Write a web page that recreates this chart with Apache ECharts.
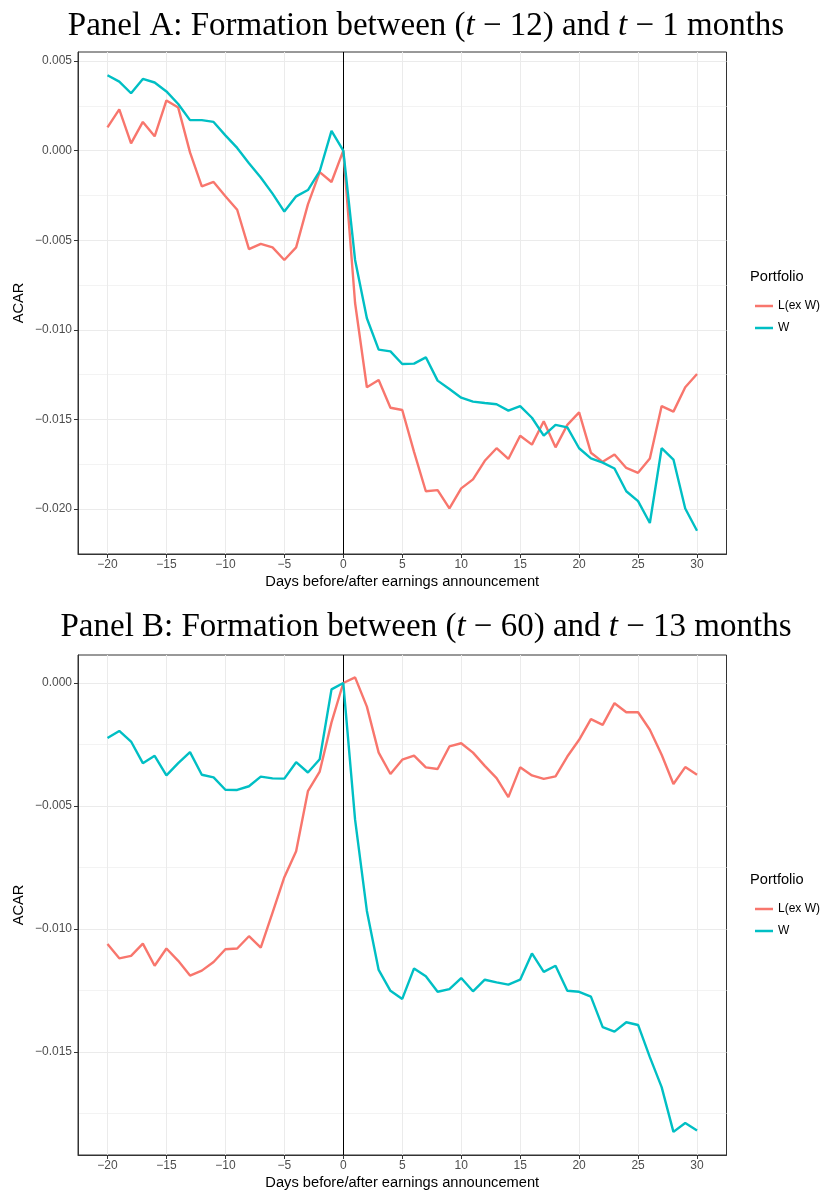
<!DOCTYPE html>
<html>
<head>
<meta charset="utf-8">
<script src="https://cdn.jsdelivr.net/npm/echarts@6/dist/echarts.min.js"></script>
<style>html,body{margin:0;padding:0;background:#fff;}#c{width:823px;height:1191px;}</style>
</head>
<body>
<div id="c"></div>
<script>
const days = [-20,-19,-18,-17,-16,-15,-14,-13,-12,-11,-10,-9,-8,-7,-6,-5,-4,-3,-2,-1,0,1,2,3,4,5,6,7,8,9,10,11,12,13,14,15,16,17,18,19,20,21,22,23,24,25,26,27,28,29,30];

const panelA_L = [0.0013,0.0023,0.0004,0.0016,0.0008,0.0028,0.0024,-0.0001,-0.0020,-0.00175,-0.00255,-0.0033,-0.0055,-0.0052,-0.0054,-0.0061,-0.0054,-0.0030,-0.0012,-0.00175,0,-0.0085,-0.0132,-0.0128,-0.01434,-0.01447,-0.0168,-0.0190,-0.01894,-0.01996,-0.01884,-0.01834,-0.0173,-0.0166,-0.0172,-0.0159,-0.0164,-0.0151,-0.01655,-0.0153,-0.0146,-0.01685,-0.01736,-0.01695,-0.0177,-0.01797,-0.01717,-0.01425,-0.01456,-0.0132,-0.01246];
const panelA_W = [0.0042,0.00385,0.0032,0.0040,0.0038,0.0033,0.0026,0.0017,0.0017,0.0016,0.00085,0.00015,-0.0007,-0.0015,-0.0024,-0.0034,-0.00255,-0.0022,-0.00115,0.0011,0,-0.0061,-0.00935,-0.0111,-0.0112,-0.0119,-0.01188,-0.01153,-0.01283,-0.0133,-0.01378,-0.0140,-0.01408,-0.01415,-0.0145,-0.01425,-0.0149,-0.0159,-0.0153,-0.01544,-0.0166,-0.01717,-0.0174,-0.01773,-0.0190,-0.01955,-0.02077,-0.0166,-0.01723,-0.01996,-0.0212];

const panelB_L = [-0.01062,-0.0112,-0.0111,-0.0106,-0.0115,-0.0108,-0.0113,-0.0119,-0.0117,-0.01135,-0.01083,-0.0108,-0.0103,-0.01076,-0.00934,-0.0079,-0.00684,-0.0044,-0.0036,-0.0016,0,0.00023,-0.00096,-0.00283,-0.0037,-0.00312,-0.00295,-0.00343,-0.0035,-0.00258,-0.00245,-0.00283,-0.00337,-0.00387,-0.00464,-0.00343,-0.00376,-0.0039,-0.0038,-0.00299,-0.00231,-0.00147,-0.0017,-0.00082,-0.00119,-0.00119,-0.0019,-0.00292,-0.00411,-0.00342,-0.00373];
const panelB_W = [-0.00224,-0.00195,-0.00238,-0.00326,-0.00296,-0.00376,-0.00326,-0.00281,-0.00373,-0.00384,-0.00434,-0.00435,-0.0042,-0.00381,-0.00388,-0.00389,-0.00322,-0.00364,-0.0031,-0.00026,0,-0.00556,-0.00927,-0.01167,-0.01252,-0.01285,-0.01161,-0.01193,-0.01256,-0.01245,-0.012,-0.01254,-0.01207,-0.01218,-0.01227,-0.01207,-0.0110,-0.01175,-0.0115,-0.01252,-0.01256,-0.01276,-0.014,-0.01418,-0.0138,-0.01391,-0.01522,-0.01644,-0.01826,-0.0179,-0.0182];

const xTicks = [-20,-15,-10,-5,0,5,10,15,20,25,30];
const yTicksA = [-0.02,-0.015,-0.01,-0.005,0,0.005];
const yMinorA = [-0.0225,-0.0175,-0.0125,-0.0075,-0.0025,0.0025];
const yTicksB = [-0.015,-0.01,-0.005,0];
const yMinorB = [-0.0175,-0.0125,-0.0075,-0.0025];

const seriesNames = ['L(ex W)','W'];
const colors = ['#F8766D','#00BFC4'];

const SANS = 'Liberation Sans, Arial, sans-serif';
const SERIF = 'Liberation Serif, Times New Roman, serif';
const minus = s => s.replace(/-/g, '\u2212');

function pairs(vals){ return days.map((d,i)=>[d, vals[i]]); }

function xAxisFor(gi){
  return {
    type:'value', gridIndex:gi, min:-22.5, max:32.5,
    name:'Days before/after earnings announcement', nameLocation:'middle', nameGap:20,
    nameTextStyle:{fontFamily:SANS, fontSize:14.67, color:'#000'},
    axisLine:{show:true, onZero:false, lineStyle:{color:'#333', width:1}},
    axisTick:{show:true, length:4, lineStyle:{color:'#333'}, customValues:xTicks},
    axisLabel:{customValues:xTicks, margin:5, fontFamily:SANS, fontSize:12, color:'#4D4D4D', formatter:v=>minus(String(v))},
    splitLine:{show:true, lineStyle:{color:'#EBEBEB', width:1}}
  };
}
function yAxisFor(gi, min, max, major){
  return {
    type:'value', gridIndex:gi, min:min, max:max, position:'left',
    name:'ACAR', nameLocation:'middle', nameGap:52, nameRotate:90, nameMoveOverlap:false,
    nameTextStyle:{fontFamily:SANS, fontSize:14.67, color:'#000'},
    axisLine:{show:true, onZero:false, lineStyle:{color:'#333', width:1}},
    axisTick:{show:true, length:4, lineStyle:{color:'#333'}, customValues:major},
    axisLabel:{customValues:major, margin:6, fontFamily:SANS, fontSize:12, color:'#4D4D4D', formatter:v=>minus(v.toFixed(3))},
    splitLine:{show:true, lineStyle:{color:'#EBEBEB', width:1}}
  };
}
function yHelper(gi, min, max, minor){
  return {
    type:'value', gridIndex:gi, min:min, max:max, position:'left',
    axisLine:{show:false}, axisLabel:{show:false},
    axisTick:{show:false, customValues:minor},
    splitLine:{show:true, lineStyle:{color:'#F3F3F3', width:1}}, z:0
  };
}

const series = [];
function addPanel(gi, L, W){
  series.push({name:seriesNames[0], type:'line', xAxisIndex:gi, yAxisIndex:gi*2, data:pairs(L), symbol:'none',
    lineStyle:{color:colors[0], width:2.4}, itemStyle:{color:colors[0]}, z:3,
    markLine:{silent:true, symbol:'none', label:{show:false}, lineStyle:{color:'#000', width:1, type:'solid'}, data:[{xAxis:0}], z:2}});
  series.push({name:seriesNames[1], type:'line', xAxisIndex:gi, yAxisIndex:gi*2, data:pairs(W), symbol:'none',
    lineStyle:{color:colors[1], width:2.4}, itemStyle:{color:colors[1]}, z:4});
}
addPanel(0, panelA_L, panelA_W);
addPanel(1, panelB_L, panelB_W);

function titleFor(txt, top){
  return {text:txt, left:421, textAlign:'center', top:top,
    textStyle:{fontFamily:SERIF, fontSize:33, fontWeight:'normal', color:'#000',
      rich:{i:{fontFamily:SERIF, fontSize:33, fontStyle:'italic', color:'#000'}}}};
}
function legendFor(top){
  return {data:seriesNames, orient:'vertical', left:750, top:top, icon:'rect', itemWidth:18, itemHeight:2.5, itemGap:10,
    textStyle:{fontFamily:SANS, fontSize:12, color:'#000'}};
}

const option = {
  animation:false,
  backgroundColor:'#fff',
  color:colors,
  title:[
    titleFor('Panel A: Formation between ({i|t} \u2212 12) and {i|t} \u2212 1 months', 5),
    titleFor('Panel B: Formation between ({i|t} \u2212 60) and {i|t} \u2212 13 months', 606)
  ],
  grid:[
    {left:78, top:52, width:648.5, height:502, show:true, borderColor:'#333', borderWidth:1, backgroundColor:'transparent'},
    {left:78, top:655, width:648.5, height:502, show:true, borderColor:'#333', borderWidth:1, backgroundColor:'transparent'}
  ],
  xAxis:[xAxisFor(0), xAxisFor(1)],
  yAxis:[
    yAxisFor(0, -0.0225, 0.0055, yTicksA), yHelper(0, -0.0225, 0.0055, yMinorA),
    yAxisFor(1, -0.0192, 0.00114, yTicksB), yHelper(1, -0.0192, 0.00114, yMinorB)
  ],
  legend:[legendFor(295), legendFor(898)],
  graphic:[
    {type:'text', left:750, top:269, style:{text:'Portfolio', fontFamily:SANS, fontSize:14.67, fill:'#000'}},
    {type:'text', left:750, top:872, style:{text:'Portfolio', fontFamily:SANS, fontSize:14.67, fill:'#000'}}
  ],
  series:series
};
const chart = echarts.init(document.getElementById('c'), null, {renderer:'canvas'});
chart.setOption(option);
</script>
</body>
</html>
